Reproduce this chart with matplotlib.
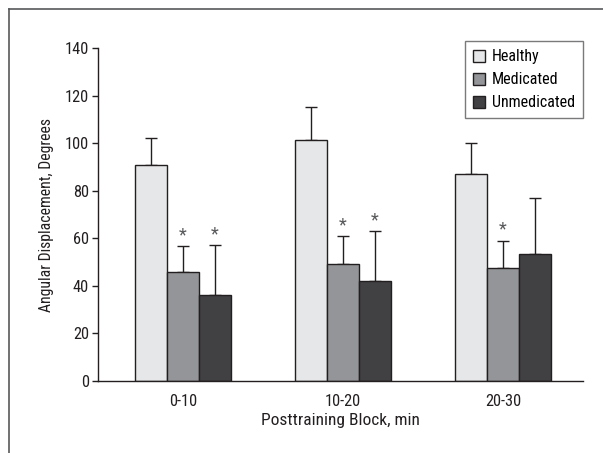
import matplotlib
matplotlib.use("Agg")
import matplotlib.pyplot as plt
import numpy as np
from matplotlib.lines import Line2D

categories = ["0-10", "10-20", "20-30"]
series_names = ["Healthy", "Medicated", "Unmedicated"]
healthy = [91, 101.5, 87]
medicated = [46, 49, 47.5]
unmedicated = [36, 42, 53.5]
healthy_err = [11.3, 13.5, 13]
medicated_err = [10.7, 12, 11.5]
unmedicated_err = [21.2, 21, 23.5]
significant = [[False, True, True], [False, True, True], [False, True, False]]
yticks = [0, 20, 40, 60, 80, 100, 120, 140]

colors = ["#e6e7e8", "#939598", "#414042"]
edge = "#231f20"

plt.rcParams['font.family'] = ['Roboto Condensed', 'Archivo Narrow', 'PT Sans Narrow',
                               'Liberation Sans Narrow', 'DejaVu Sans']

fig = plt.figure(figsize=(6.03, 4.53), dpi=100)
ax = fig.add_axes([98/603, 1-381/453, (583-98)/603, (381-48)/453])

x = np.arange(len(categories))
w = 0.2
vals = [healthy, medicated, unmedicated]
errs = [healthy_err, medicated_err, unmedicated_err]
for i, (v, e) in enumerate(zip(vals, errs)):
    pos = x + (i - 1) * w
    ax.bar(pos, v, width=w, color=colors[i], edgecolor=edge, linewidth=1.0,
           label=series_names[i], zorder=2)
    ax.errorbar(pos, v, yerr=[np.zeros(len(v)), e], fmt='none', ecolor=edge,
                elinewidth=1.0, capsize=4.5, capthick=1.0, zorder=1)
    for j in range(len(categories)):
        if significant[j][i]:
            ax.text(pos[j], v[j] + e[j] + 0.8, "*", ha='center', va='bottom',
                    fontsize=13, color="#58595b")

ax.set_xlim(-0.53, 2.50)
ax.set_ylim(0, 140)
ax.set_yticks(yticks)
ax.set_xticks(x)
ax.set_xticklabels(categories)
ax.tick_params(axis='both', labelsize=11.8, colors="#231f20", length=4.5, width=1)
ax.tick_params(axis='y', pad=2)
ax.tick_params(axis='x', length=0, pad=9)
for s in ['top', 'right']:
    ax.spines[s].set_visible(False)
for s in ['left', 'bottom']:
    ax.spines[s].set_color(edge)
    ax.spines[s].set_linewidth(1.0)
ax.set_ylabel("Angular Displacement, Degrees", fontsize=11.3, color="#231f20", labelpad=8)
ax.set_xlabel("Posttraining Block, min", fontsize=12.5, color="#231f20", labelpad=3)

leg = ax.legend(loc='upper right', bbox_to_anchor=(1.0, 1.02), borderaxespad=0,
                frameon=True, fancybox=False, edgecolor="#58595b", fontsize=11.5,
                handlelength=0.75, handleheight=0.75, handletextpad=0.45,
                labelspacing=0.5, borderpad=0.5)
leg.get_frame().set_linewidth(1.0)

# outer frame
fig.add_artist(Line2D([9/603, 9/603], [0, 1-9/453], transform=fig.transFigure,
                      color="#58595b", linewidth=1.2))
fig.add_artist(Line2D([9/603, 1], [1-9/453, 1-9/453], transform=fig.transFigure,
                      color="#58595b", linewidth=1.2))

fig.savefig("out.png", dpi=100)
